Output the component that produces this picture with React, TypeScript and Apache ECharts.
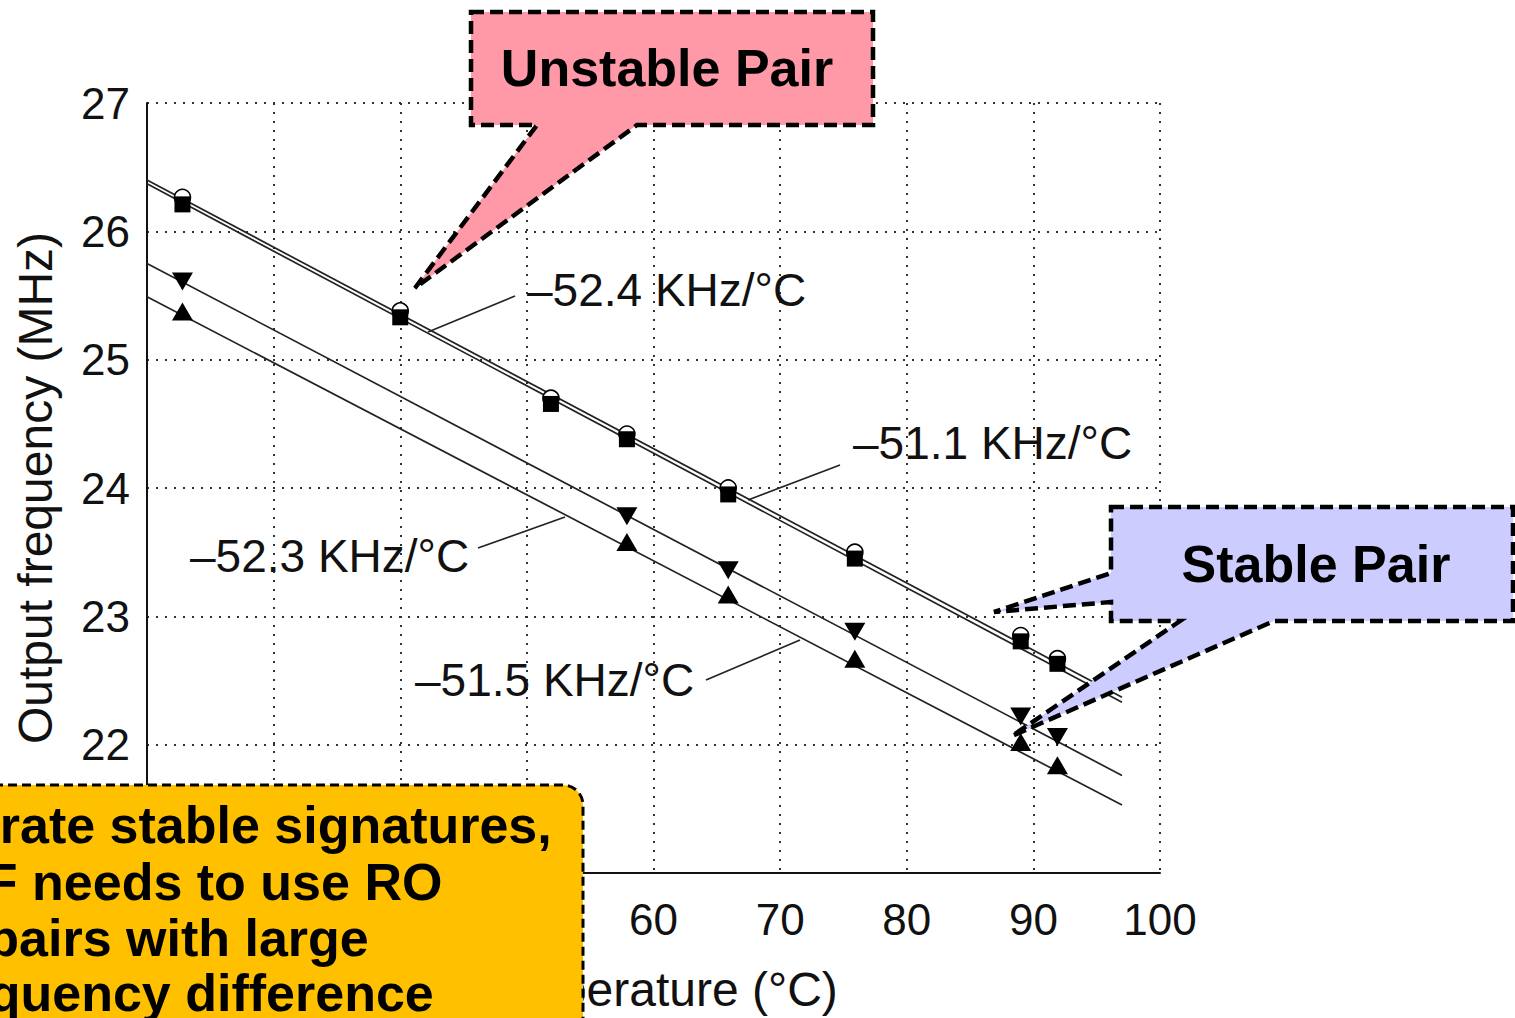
import React, { useEffect, useRef } from "react";
import * as echarts from "echarts";

// Measurement temperatures (°C)
const ringTemps = [22.8, 40, 51.9, 57.9, 65.9, 75.9, 89, 91.9];
const triTemps = [22.8, 57.9, 65.9, 75.9, 89, 91.9];
// Output frequencies (MHz)
const circleFreq = [26.265, 25.38, 24.7, 24.42, 24.0, 23.5, 22.85, 22.67];
const squareFreq = [26.21, 25.33, 24.655, 24.38, 23.95, 23.45, 22.805, 22.63];
const downFreq = [25.61, 23.78, 23.36, 22.88, 22.22, 22.06];
const upFreq = [25.375, 23.58, 23.17, 22.67, 22.02, 21.84];
// Linear fits: [value at fitStart, value at fitEnd]
const fitRange = [20, 97];
const circleFit = [26.4, 22.37];
const squareFit = [26.37, 22.33];
const downFit = [25.75, 21.76];
const upFit = [25.49, 21.53];
// Axis ranges
const xRange = [20, 100, 10];
const yRange = [21, 27, 1];
// Tick labels hidden behind the note box in the picture
const hiddenXTicks = [20, 30, 40, 50];
const hiddenYTicks = [21];
// Annotation texts
const slopeLabels = ["–52.4 KHz/°C", "–51.1 KHz/°C", "–52.3 KHz/°C", "–51.5 KHz/°C"];
const noteLines = ["To generate stable signatures,", "PUF needs to use RO", "pairs with large", "frequency difference"];

const FONT = '"Liberation Sans", Arial, Helvetica, sans-serif';

function fitData(f: number[]) {
  return [
    [fitRange[0], f[0]],
    [fitRange[1], f[1]],
  ];
}
function pts(xs: number[], ys: number[]) {
  return xs.map((x, i) => [x, ys[i]]);
}

export default function App() {
  const ref = useRef<HTMLDivElement>(null);
  useEffect(() => {
    if (!ref.current) return;
    const chart = echarts.init(ref.current, null, { renderer: "svg" });
    const fitLine = (name: string, f: number[]) => ({
      name,
      type: "line",
      data: fitData(f),
      showSymbol: false,
      symbol: "none",
      lineStyle: { color: "#222", width: 1.7 },
      z: 2,
      silent: true,
    });
    const labelStyle = (text: string, x: number, y: number) => ({
      type: "text",
      z: 50,
      style: {
        text,
        x,
        y,
        font: `46px ${FONT}`,
        fill: "#111",
        align: "left",
        verticalAlign: "middle",
      },
    });
    const leader = (x1: number, y1: number, x2: number, y2: number) => ({
      type: "line",
      z: 50,
      shape: { x1, y1, x2, y2 },
      style: { stroke: "#222", lineWidth: 1.7 },
    });
    const noteY = [825, 882, 938, 993];
    chart.setOption({
      animation: false,
      backgroundColor: "#fff",
      grid: { left: 147, top: 103, width: 1013, height: 775, containLabel: false },
      xAxis: {
        type: "value",
        min: xRange[0],
        max: xRange[1],
        interval: xRange[2],
        name: "Temperature (°C)",
        nameLocation: "middle",
        nameGap: 92,
        nameTextStyle: { fontFamily: FONT, fontSize: 48, color: "#111" },
        axisLine: { show: true, onZero: false, lineStyle: { color: "#111", width: 2 } },
        axisTick: { show: false },
        axisLabel: {
          fontFamily: FONT,
          fontSize: 44,
          color: "#111",
          margin: 24,
          formatter: (v: number) => (hiddenXTicks.includes(v) ? "" : String(v)),
        },
        splitLine: { show: true, lineStyle: { color: "#333", width: 2, type: [2, 7] } },
      },
      yAxis: {
        type: "value",
        min: yRange[0],
        max: yRange[1],
        interval: yRange[2],
        name: "Output frequency (MHz)",
        nameLocation: "middle",
        nameGap: 88,
        nameTextStyle: { fontFamily: FONT, fontSize: 48, color: "#111" },
        axisLine: { show: true, onZero: false, lineStyle: { color: "#111", width: 2 } },
        axisTick: { show: false },
        axisLabel: {
          fontFamily: FONT,
          fontSize: 44,
          color: "#111",
          margin: 17,
          formatter: (v: number) => (hiddenYTicks.includes(v) ? "" : String(v)),
        },
        splitLine: { show: true, lineStyle: { color: "#333", width: 2, type: [2, 7] } },
      },
      series: [
        fitLine("fit-circle", circleFit),
        fitLine("fit-square", squareFit),
        fitLine("fit-down", downFit),
        fitLine("fit-up", upFit),
        {
          name: "circle",
          type: "scatter",
          data: pts(ringTemps, circleFreq),
          symbol: "circle",
          symbolSize: 16,
          itemStyle: { color: "#fff", borderColor: "#000", borderWidth: 1.6, opacity: 1 },
          z: 3,
        },
        {
          name: "square",
          type: "scatter",
          data: pts(ringTemps, squareFreq),
          symbol: "rect",
          symbolSize: 16,
          itemStyle: { color: "#000", opacity: 1 },
          z: 4,
        },
        {
          name: "down",
          type: "scatter",
          data: pts(triTemps, downFreq),
          symbol: "triangle",
          symbolRotate: 180,
          symbolSize: [21, 18],
          itemStyle: { color: "#000", opacity: 1 },
          z: 4,
        },
        {
          name: "up",
          type: "scatter",
          data: pts(triTemps, upFreq),
          symbol: "triangle",
          symbolSize: [21, 18],
          itemStyle: { color: "#000", opacity: 1 },
          z: 4,
        },
      ],
      graphic: [
        leader(428, 332, 515, 296),
        labelStyle(slopeLabels[0], 527, 290),
        leader(748, 500, 840, 465),
        labelStyle(slopeLabels[1], 853, 443),
        leader(478, 548, 565, 517),
        labelStyle(slopeLabels[2], 190, 556),
        leader(706, 680, 800, 640),
        labelStyle(slopeLabels[3], 415, 680),
        {
          type: "polygon",
          z: 100,
          shape: {
            points: [
              [471, 12],
              [873, 12],
              [873, 125],
              [637, 125],
              [415, 288],
              [537, 125],
              [471, 125],
            ],
          },
          style: { fill: "#FF99A8", stroke: "#000", lineWidth: 4.5, lineDash: [13, 6] },
        },
        {
          type: "text",
          z: 101,
          style: {
            text: "Unstable Pair",
            x: 667,
            y: 68,
            font: `bold 52px ${FONT}`,
            fill: "#000",
            align: "center",
            verticalAlign: "middle",
          },
        },
        {
          type: "polygon",
          z: 100,
          shape: {
            points: [
              [1111, 507],
              [1513, 507],
              [1513, 621],
              [1274, 621],
              [1012, 736],
              [1180, 621],
              [1111, 621],
              [1111, 602],
              [994, 612],
              [1111, 573],
            ],
          },
          style: { fill: "#CCCCFF", stroke: "#000", lineWidth: 4.5, lineDash: [13, 6] },
        },
        {
          type: "text",
          z: 101,
          style: {
            text: "Stable Pair",
            x: 1316,
            y: 564,
            font: `bold 52px ${FONT}`,
            fill: "#000",
            align: "center",
            verticalAlign: "middle",
          },
        },
        {
          type: "rect",
          z: 100,
          shape: { x: -40, y: 785, width: 623, height: 320, r: 20 },
          style: { fill: "#FFC000", stroke: "#000", lineWidth: 3, lineDash: [9, 5] },
        },
        ...noteLines.map((t, i) => ({
          type: "text",
          z: 101,
          style: {
            text: t,
            x: 178,
            y: noteY[i],
            font: `bold 52px ${FONT}`,
            fill: "#000",
            align: "center",
            verticalAlign: "middle",
          },
        })),
      ],
    });
    return () => chart.dispose();
  }, []);
  return (
    <div
      ref={ref}
      style={{ position: "absolute", left: 0, top: 0, width: 1515, height: 1018, background: "#fff" }}
    />
  );
}
